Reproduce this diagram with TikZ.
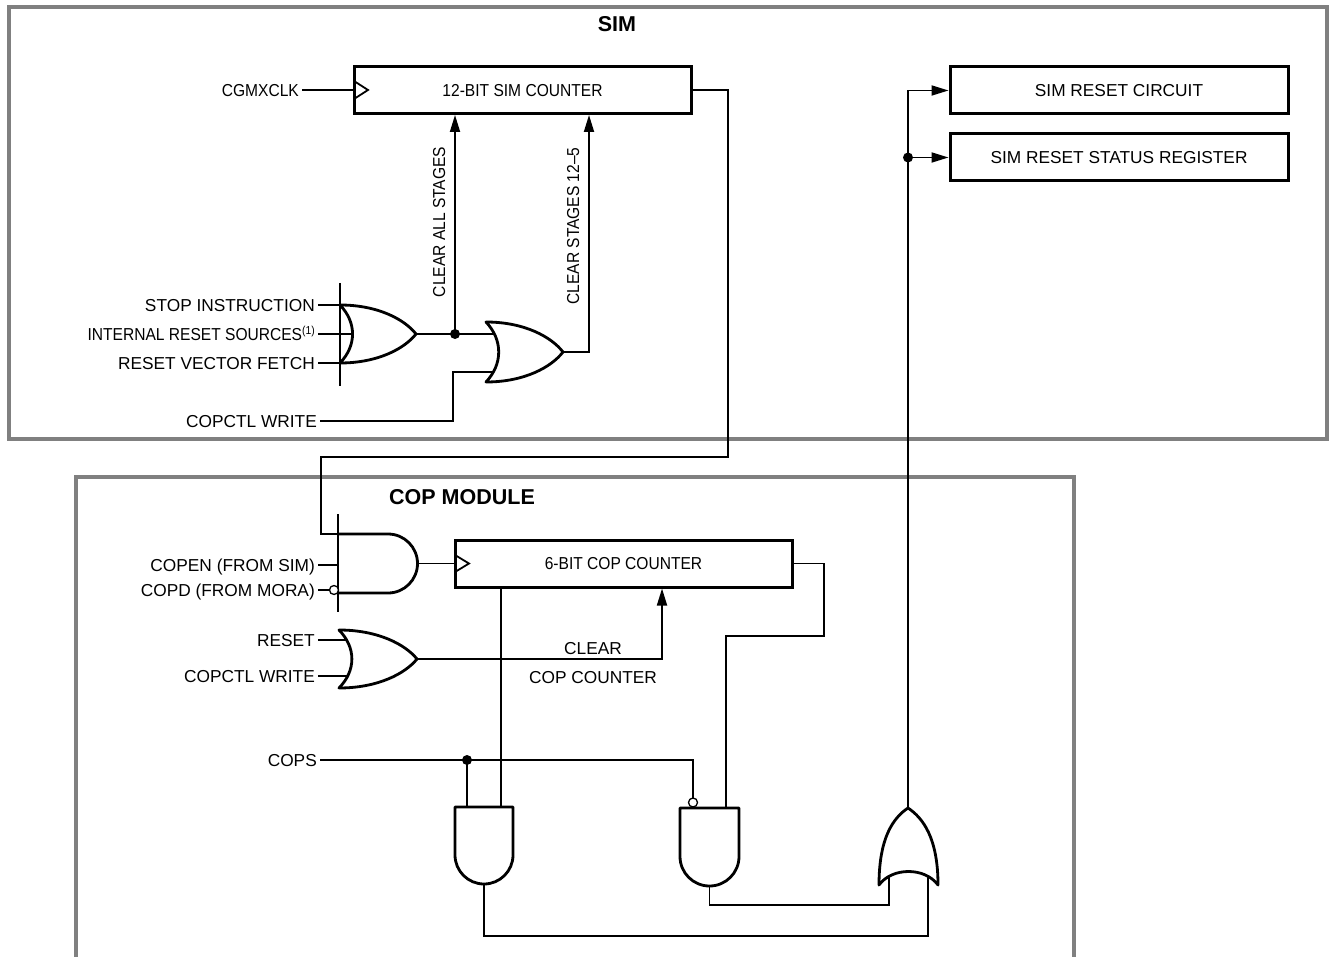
\documentclass[tikz,border=0pt]{standalone}
\usepackage{fontspec}
\setmainfont{Liberation Sans}
\newfontfamily\narrowfont[FakeStretch=0.9]{Liberation Sans}
\usetikzlibrary{arrows.meta}
\definecolor{framegray}{RGB}{128,128,128}
\newcommand\lblfont{\fontsize{17.3}{20}\selectfont}
\newcommand\narrowlbl{\narrowfont\fontsize{17.3}{20}\selectfont}
\newcommand\titlefont{\bfseries\fontsize{21.5}{24}\selectfont}
\newcommand\orgateH[4]{% x0, ytop, w, h
  \draw[gate] (#1,#2) .. controls ({#1+0.5*#3},#2) and ({#1+0.85*#3},{#2+0.25*#4}) .. ({#1+#3},{#2+0.5*#4})
    .. controls ({#1+0.85*#3},{#2+0.75*#4}) and ({#1+0.5*#3},{#2+#4}) .. (#1,{#2+#4})
    .. controls ({#1+0.22*#3},{#2+0.7*#4}) and ({#1+0.22*#3},{#2+0.3*#4}) .. cycle;}
\begin{document}
\begin{tikzpicture}[x=1pt,y=-1pt,
  wire/.style={line width=1.8pt},
  box/.style={draw, line width=3pt, minimum width=337pt, minimum height=47pt, inner sep=0pt,
              text height=12.4pt, text depth=0pt, font=\lblfont},
  gate/.style={line width=2.8pt, fill=white, line join=round},
  frame/.style={draw=framegray, line width=4pt},
  lbl/.style={anchor=east, inner xsep=3pt, inner ysep=0pt, text height=12.4pt, text depth=0pt, font=\lblfont},
  vlbl/.style={rotate=90, inner sep=0pt, text height=12.4pt, text depth=0pt, font=\narrowlbl},
  arr/.style={-{Triangle[length=17pt,width=10pt]}},
  jdot/.style={circle, fill, inner sep=0pt, minimum size=10pt},
  bubble/.style={circle, draw, fill=white, line width=1.3pt, inner sep=0pt, minimum size=9pt},
]
\useasboundingbox (0,0) rectangle (1329,957);
\fill[white] (0,0) rectangle (1329,957);

% frames
\draw[frame] (9,7) rectangle (1327,439);
\draw[frame] (76,965) -- (76,477) -- (1074,477) -- (1074,965);

% titles
\node[font=\titlefont, inner sep=0pt] (simtitle) at (617,24) {SIM};
\node[font=\titlefont, inner sep=0pt] (coptitle) at (462,497) {COP MODULE};

% boxes
\node[box, font=\narrowlbl] (simc) at (522.5,90) {12-BIT SIM COUNTER};
\node[box, font=\narrowlbl] (copc) at (623.5,563.5) {6-BIT COP COUNTER};
\node[box, minimum width=338pt] (rstc) at (1119,90.5) {SIM RESET CIRCUIT};
\node[box, minimum width=338pt] (rsts) at (1119,157.5) {SIM RESET STATUS REGISTER};

% clock triangles
\draw[line width=1.8pt, line join=miter] (354,81) -- (368,90) -- (354,99);
\draw[line width=1.8pt, line join=miter] (455,555) -- (469,563.5) -- (455,572);

% labels
\node[lbl, font=\narrowlbl] (cgm) at (302,90) {CGMXCLK};
\node[lbl] (stop) at (318,305) {STOP INSTRUCTION};
\node[lbl, font=\narrowlbl] (intr) at (318,334) {INTERNAL RESET SOURCES\raisebox{5.5pt}{\fontsize{11.5}{12}\selectfont(1)}};
\node[lbl] (rvf) at (318,363) {RESET VECTOR FETCH};
\node[lbl] (copctla) at (320,421) {COPCTL WRITE};
\node[lbl] (copen) at (318,565) {COPEN (FROM SIM)};
\node[lbl] (copd) at (318,590) {COPD (FROM MORA)};
\node[lbl] (rst) at (318,640) {RESET};
\node[lbl] (copctlb) at (318,676) {COPCTL WRITE};
\node[lbl] (cops) at (320,760) {COPS};
\node[vlbl] (clrall) at (439,222) {CLEAR ALL STAGES};
\node[vlbl] (clr125) at (573,226) {CLEAR STAGES 12–5};
\node[font=\lblfont, inner sep=0pt, text height=12.4pt, text depth=0pt] (clrl1) at (593,648) {CLEAR};
\node[font=\lblfont, inner sep=0pt, text height=12.4pt, text depth=0pt] (clrl2) at (593,677) {COP COUNTER};

% coordinates
\coordinate (or1out) at (416,334);
\coordinate (d1) at (455,334);
\coordinate (or2out) at (563,352);
\coordinate (c125) at (589,352);
\coordinate (andout) at (417.5,563.5);
\coordinate (orrout) at (417,659);
\coordinate (clrx) at (662,659);
\coordinate (a1b) at (501,807);
\coordinate (dcops) at (467,760);
\coordinate (or3out) at (908,808);
\coordinate (d2) at (908,157.5);

% ---- SIM wires
\draw[wire] (cgm.east) -- (simc.west);
\draw[wire] (stop.east) -- (340,305);
\draw[wire] (intr.east) -- (356,334);
\draw[wire] (rvf.east) -- (340,363);
\draw[wire] (or1out) -- (d1) -- (505,334);
\draw[wire,arr] (d1) -- (d1 |- simc.south);
\draw[wire] (copctla.east) -- (453,421) -- (453,372) -- (505,372);
\draw[wire,arr] (or2out) -- (c125) -- (c125 |- simc.south);
\draw[wire] (simc.east) -- (728,90) -- (728,457) -- (321,457) -- (321,534) -- (338,534);

% ---- COP wires
\draw[wire] (copen.east) -- (338,565);
\draw[wire] (copd.east) -- (329.5,590);
\draw[wire] (andout) -- (copc.west);
\draw[wire] (rst.east) -- (355,640);
\draw[wire] (copctlb.east) -- (355,676);
\draw[wire,arr] (orrout) -- (clrx) -- (clrx |- copc.south);
\draw[wire] (a1b |- copc.south) -- (a1b);
\draw[wire] (copc.east) -- (824,563.5) -- (824,636) -- (726,636) -- (726,815);
\draw[wire] (cops.east) -- (dcops) -- (693,760) -- (693,798);
\draw[wire] (dcops) -- (467,815);
\draw[wire] (484,884) -- (484,936) -- (928,936) -- (928,872);
\draw[wire] (709.5,886) -- (709.5,905) -- (889,905) -- (889,872);
\draw[wire,arr] (or3out) -- (908,90.5) -- (rstc.west);
\draw[wire,arr] (d2) -- (rsts.west);

% ---- gates
\orgateH{340}{305}{76}{58}
\orgateH{486}{322}{77}{60}
\orgateH{339}{630}{78}{58}
\draw[gate] (338,534) -- (388,534) .. controls (404.3,534) and (417.5,547.2) .. (417.5,563.5)
  .. controls (417.5,579.8) and (404.3,593) .. (388,593) -- (338,593);
\draw[gate] (455,807) -- (513,807) -- (513,855) .. controls (513,871) and (500,884) .. (484,884)
  .. controls (468,884) and (455,871) .. (455,855) -- cycle;
\draw[gate] (680,808) -- (739,808) -- (739,856.5) .. controls (739,872.8) and (725.8,886) .. (709.5,886)
  .. controls (693.2,886) and (680,872.8) .. (680,856.5) -- cycle;
\draw[gate] (879,885) .. controls (879,838) and (893,818) .. (908,808)
  .. controls (923,818) and (938,838) .. (938,885)
  .. controls (925,867) and (892,867) .. cycle;

% bars
\draw[line width=2pt] (340,283) -- (340,386);
\draw[line width=2pt] (338,514) -- (338,612);

% bubbles and dots
\node[bubble] (bub1) at (334,590) {};
\node[bubble] (bub2) at (693,802.5) {};
\node[jdot] (dot1) at (d1) {};
\node[jdot] (dot2) at (dcops) {};
\node[jdot] (dot3) at (d2) {};
\end{tikzpicture}
\end{document}
